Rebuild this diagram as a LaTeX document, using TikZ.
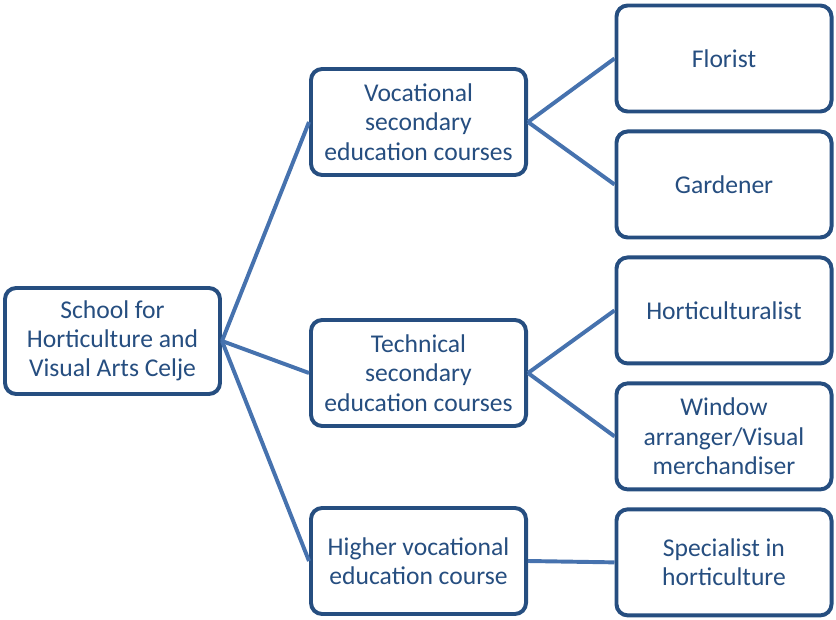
\documentclass[tikz,border=0pt]{standalone}
\usepackage{fontspec}
\setmainfont{Carlito}
\usetikzlibrary{positioning}
\definecolor{boxblue}{HTML}{264E80}
\definecolor{linkblue}{HTML}{4672AE}
\tikzset{
    auto,node distance =0.4cm and 1cm,
    course/.style ={rectangle, rounded corners=0.28cm, draw=boxblue, line width=2.8pt,
        fill=white, text=boxblue, align=center, minimum width=5.375cm, minimum height=2.65cm,
        font=\fontsize{18.2}{20.8}\selectfont, inner sep=2pt},
    link/.style = {draw=linkblue, line width=2.8pt}
}
\begin{document}
\begin{tikzpicture}[x=0.025cm,y=-0.025cm]
    \useasboundingbox (0,0) rectangle (836,619);
    % root and course nodes with absolute coordinates
    \node[course] (school) at (112.5,341) {School for\\Horticulture and\\Visual Arts Celje};
    \node[course] (voc) at (418.5,122) {Vocational\\secondary\\education courses};
    \node[course] (tech) at (418.5,373) {Technical\\secondary\\education courses};
    \node[course] (high) at (418.5,561) {Higher vocational\\education course};

    % occupations stacked in one column
    \node[course] (florist) at (724,58.5) {Florist};
    \node[course] (garden) [below =of florist] {Gardener};
    \node[course] (horti) [below =of garden] {Horticulturalist};
    \node[course] (window) [below =of horti] {Window\\arranger/Visual\\merchandiser};
    \node[course] (spec) [below =of window] {Specialist in\\horticulture};

    % connectors
    \path[link] (school.east) -- (voc.west);
    \path[link] (school.east) -- (tech.west);
    \path[link] (school.east) -- (high.west);
    \path[link] (voc.east) -- (florist.west);
    \path[link] (voc.east) -- (garden.west);
    \path[link] (tech.east) -- (horti.west);
    \path[link] (tech.east) -- (window.west);
    \path[link] (high.east) -- (spec.west);
\end{tikzpicture}
\end{document}
